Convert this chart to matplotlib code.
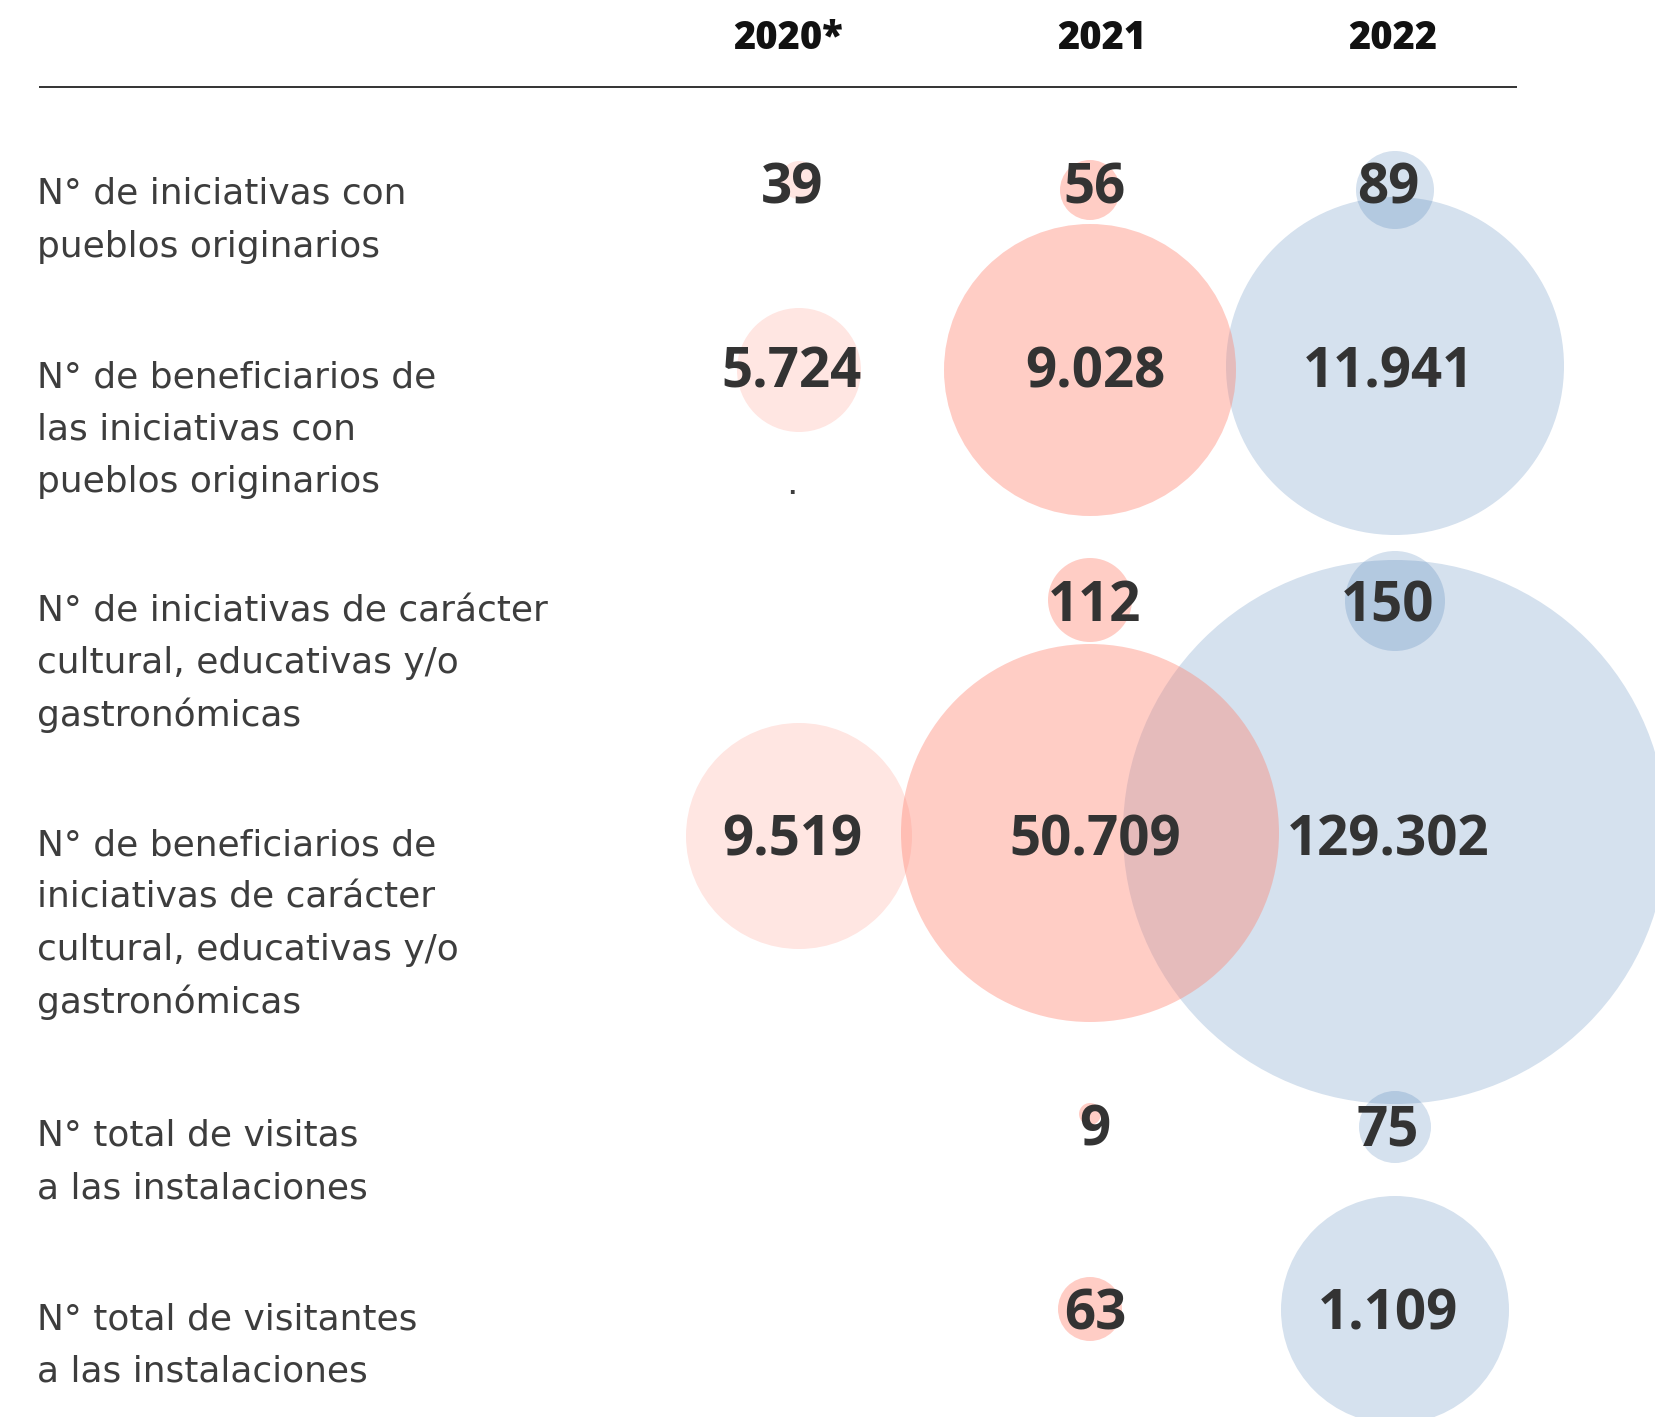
import matplotlib
matplotlib.use("Agg")
import matplotlib.pyplot as plt
from matplotlib.patches import Circle

# ---- datos ----
years = ["2020*", "2021", "2022"]

row_labels = [
    ["N° de iniciativas con", "pueblos originarios"],
    ["N° de beneficiarios de", "las iniciativas con", "pueblos originarios"],
    ["N° de iniciativas de carácter", "cultural, educativas y/o", "gastronómicas"],
    ["N° de beneficiarios de", "iniciativas de carácter",
     "cultural, educativas y/o", "gastronómicas"],
    ["N° total de visitas", "a las instalaciones"],
    ["N° total de visitantes", "a las instalaciones"],
]

values_2020 = [39, 5724, None, 9519, None, None]
values_2021 = [56, 9028, 112, 50709, 9, 63]
values_2022 = [89, 11941, 150, 129302, 75, 1109]

# radio de cada burbuja (px)
radius_2020 = [19, 62, None, 113, None, None]
radius_2021 = [30, 146, 42, 189, 11, 32]
radius_2022 = [39, 169, 50, 272, 36, 114]

# ---- layout (px) ----
W, H = 1655, 1417
row_y = [185, 368, 602, 836, 1127, 1310]
bubble_x = [799, 1090, 1395]
text_x = [792, 1095, 1388]
header_x = [788, 1102, 1393]
bubble_dy = [
    [-5, 2, 0, 0, 0, 0],
    [5, 2, -2, -3, -13, -1],
    [5, -2, -1, -4, 0, 0],
]

pink = "#FF8270"
blue = "#2D69AA"
styles = [(pink, 0.2, 2), (pink, 0.4, 2), (blue, 0.2, 1)]

label_font = ["DejaVu Sans"]
num_font = ["Open Sans", "DejaVu Sans"]

fig = plt.figure(figsize=(W / 100, H / 100), dpi=100)
ax = fig.add_axes([0, 0, 1, 1])
ax.set_xlim(0, W)
ax.set_ylim(H, 0)
ax.axis("off")

# cabecera
for x, yr in zip(header_x, years):
    ax.text(x, 49, yr, ha="center", va="baseline", fontsize=27.4,
            fontweight="heavy", family=num_font, color="#111111")
ax.plot([39, 1517], [87, 87], color="#333333", lw=1.4, solid_capstyle="butt")

# etiquetas de filas
for y, lines in zip(row_y, row_labels):
    for k, line in enumerate(lines):
        ax.text(37, y + 19 + k * 52.5, line, ha="left", va="baseline",
                fontsize=25.9, family=label_font, color="#3d3d3d")

# burbujas y valores
all_values = [values_2020, values_2021, values_2022]
all_radius = [radius_2020, radius_2021, radius_2022]
for j in range(3):
    color, alpha, z = styles[j]
    for i, (v, r) in enumerate(zip(all_values[j], all_radius[j])):
        if v is None:
            continue
        c = Circle((bubble_x[j], row_y[i] + bubble_dy[j][i]), r,
                   facecolor=color, alpha=alpha, edgecolor="none", zorder=z)
        ax.add_patch(c)
        txt = f"{v:,}".replace(",", ".")
        ax.text(text_x[j], row_y[i] + 19, txt, ha="center", va="baseline",
                fontsize=39.3, fontweight="bold", family=num_font,
                color="#333333", zorder=5)

# punto suelto bajo 5.724
ax.text(792, 494, ".", ha="center", va="baseline", fontsize=25.9,
        family=label_font, color="#3d3d3d")

fig.savefig("out.png", dpi=100, facecolor="white")
